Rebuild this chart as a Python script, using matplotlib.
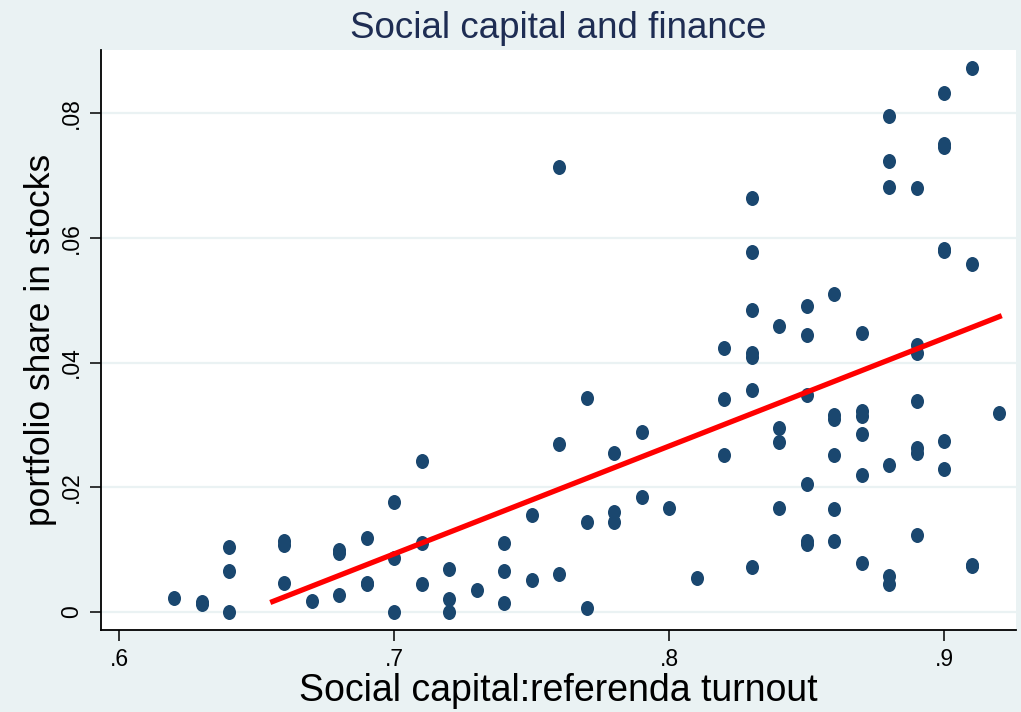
import numpy as np
import matplotlib.pyplot as plt
from matplotlib.path import Path
from matplotlib.transforms import Affine2D

# turnout (x) and stock share (y)
turnout = [0.62,
           0.63, 0.63,
           0.64, 0.64, 0.64,
           0.66, 0.66, 0.66,
           0.67,
           0.68, 0.68, 0.68,
           0.69, 0.69, 0.69,
           0.70, 0.70, 0.70,
           0.71, 0.71, 0.71,
           0.72, 0.72, 0.72,
           0.73,
           0.74, 0.74, 0.74,
           0.75, 0.75,
           0.76, 0.76, 0.76,
           0.77, 0.77, 0.77,
           0.78, 0.78, 0.78,
           0.79, 0.79,
           0.80,
           0.81,
           0.82, 0.82, 0.82,
           0.83, 0.83, 0.83, 0.83, 0.83, 0.83, 0.83,
           0.84, 0.84, 0.84, 0.84,
           0.85, 0.85, 0.85, 0.85, 0.85, 0.85,
           0.86, 0.86, 0.86, 0.86, 0.86, 0.86,
           0.87, 0.87, 0.87, 0.87, 0.87, 0.87,
           0.88, 0.88, 0.88, 0.88, 0.88, 0.88,
           0.89, 0.89, 0.89, 0.89, 0.89, 0.89, 0.89,
           0.90, 0.90, 0.90, 0.90, 0.90, 0.90, 0.90,
           0.91, 0.91, 0.91, 0.91,
           0.92]
stock_share = [0.0023,
               0.0012, 0.0016,
               0.0104, 0.0065, 0.0,
               0.0108, 0.0113, 0.0046,
               0.0018,
               0.0095, 0.0099, 0.0027,
               0.0118, 0.0044, 0.0047,
               0.0177, 0.0086, 0.0,
               0.0242, 0.0111, 0.0044,
               0.0069, 0.0021, 0.0,
               0.0035,
               0.0111, 0.0066, 0.0015,
               0.0156, 0.0052,
               0.0713, 0.0270, 0.0061,
               0.0343, 0.0144, 0.0006,
               0.0255, 0.0160, 0.0144,
               0.0288, 0.0184,
               0.0166,
               0.0055,
               0.0424, 0.0342, 0.0251,
               0.0664, 0.0577, 0.0484, 0.0416, 0.0409, 0.0356, 0.0072,
               0.0458, 0.0295, 0.0272, 0.0166,
               0.0491, 0.0444, 0.0348, 0.0206, 0.0109, 0.0113,
               0.0510, 0.0316, 0.0310, 0.0251, 0.0165, 0.0114,
               0.0447, 0.0322, 0.0314, 0.0285, 0.0220, 0.0078,
               0.0795, 0.0724, 0.0681, 0.0236, 0.0057, 0.0045,
               0.0680, 0.0429, 0.0415, 0.0339, 0.0263, 0.0255, 0.0123,
               0.0833, 0.0751, 0.0746, 0.0582, 0.0579, 0.0274, 0.0230,
               0.0873, 0.0558, 0.0073, 0.0076,
               0.0319]

# fitted line as drawn in the chart
fit_range = [0.655, 0.921]
fit_intercept = -0.1118
fit_slope = 0.173

xticks = [0.6, 0.7, 0.8, 0.9]
xticklabels = [".6", ".7", ".8", ".9"]
yticks = [0, 0.02, 0.04, 0.06, 0.08]
yticklabels = ["0", ".02", ".04", ".06", ".08"]

plt.rcParams['font.family'] = ['Liberation Sans', 'DejaVu Sans']

bg = "#eaf2f3"
navy = "#1a476f"

fig = plt.figure(figsize=(10.21, 7.12), dpi=100, facecolor=bg)
ax = fig.add_axes([101 / 1021, 1 - 630 / 712, 915 / 1021, 580 / 712])
ax.set_facecolor("white")

# slightly tall ellipse marker
oval = Path.unit_circle().transformed(Affine2D().scale(0.87, 1.0))

ax.set_xlim(0.59345, 0.92618)
ax.set_ylim(-0.0029, 0.09015)

for t in yticks:
    ax.axhline(t, color=bg, lw=1.6, zorder=0)

ax.plot(turnout, stock_share, linestyle="none", marker=oval, ms=10.8,
        mfc=navy, mec="none", zorder=2)

fx = np.array(fit_range)
ax.plot(fx, fit_intercept + fit_slope * fx, color="red", lw=3.8,
        solid_capstyle="butt", zorder=3)

for s in ["top", "right"]:
    ax.spines[s].set_visible(False)
for s in ["left", "bottom"]:
    ax.spines[s].set_color("black")
    ax.spines[s].set_linewidth(1.3)

ax.set_xticks(xticks)
ax.set_xticklabels(xticklabels)
ax.set_yticks(yticks)
ax.set_yticklabels(yticklabels, rotation=90, va="center")
ax.tick_params(axis="both", length=8, width=1.1, labelsize=16.5, colors="black")
ax.tick_params(axis="x", pad=5)
ax.tick_params(axis="y", pad=5)

ax.set_title("Social capital and finance", fontsize=26.5, color="#1e2d53", pad=9)
ax.set_xlabel("Social capital:referenda turnout", fontsize=27, labelpad=1.5)
ax.set_ylabel("portfolio share in stocks", fontsize=25.5, labelpad=2)

fig.savefig("out.png", dpi=100, facecolor=bg)
